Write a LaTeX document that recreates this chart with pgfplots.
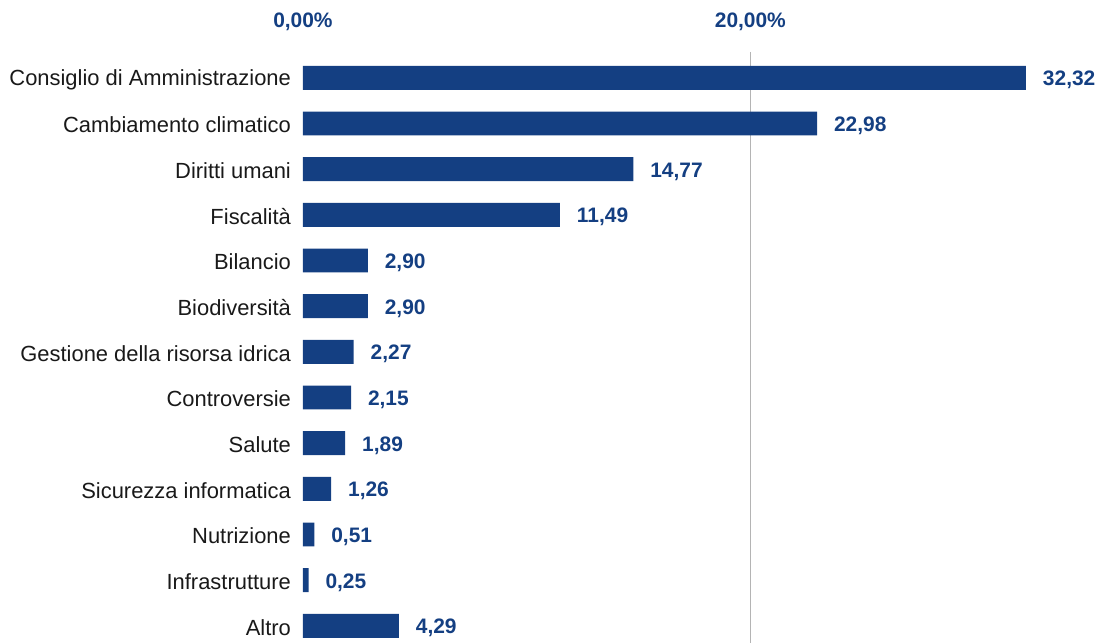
\documentclass[border=0pt]{standalone}
\usepackage{pgfplots}
\pgfplotsset{compat=1.18}
\usepackage{fontspec}
\setmainfont{Liberation Sans}
\definecolor{barblue}{HTML}{143F82}
\definecolor{gridgray}{HTML}{B4B4B4}
\begin{document}
\begin{tikzpicture}
\begin{axis}[
  scale only axis,
  width=392.9pt, height=296.5pt,
  xmin=0, xmax=35,
  ymin=-0.57, ymax=12.37,
  y dir=reverse,
  axis line style={draw=none},
  xbar, bar width=12pt,
  /pgf/number format/assume math mode=true,
  xtick={0,20},
  xticklabels={0{,}00\%,20{,}00\%},
  xticklabel pos=upper,
  xticklabel style={font=\fontsize{10.5pt}{12pt}\selectfont\bfseries, text=barblue, yshift=7pt},
  extra x ticks={20},
  extra x tick labels={},
  extra x tick style={grid=major, major grid style={gridgray, line width=0.6pt}},
  major tick length=0pt,
  ytick={0,...,12},
  yticklabels={Consiglio di Amministrazione,Cambiamento climatico,Diritti umani,Fiscalità,Bilancio,Biodiversità,Gestione della risorsa idrica,Controversie,Salute,Sicurezza informatica,Nutrizione,Infrastrutture,Altro},
  yticklabel style={font=\fontsize{11pt}{13pt}\selectfont, text=black!90, xshift=-2.5pt, yshift=-0.8pt},
  clip=false,
  nodes near coords={\pgfmathprintnumber[fixed,fixed zerofill,precision=2,use comma,assume math mode=true]{\pgfplotspointmeta}},
  point meta=explicit,
  every node near coord/.append style={font=\fontsize{10.5pt}{12pt}\selectfont\bfseries, text=barblue, anchor=west, xshift=5pt, yshift=-1.2pt},
]
\addplot[fill=barblue, draw=none] coordinates {
(32.32,0) [32.32]
(22.98,1) [22.98]
(14.77,2) [14.77]
(11.49,3) [11.49]
(2.90,4) [2.90]
(2.90,5) [2.90]
(2.27,6) [2.27]
(2.15,7) [2.15]
(1.89,8) [1.89]
(1.26,9) [1.26]
(0.51,10) [0.51]
(0.25,11) [0.25]
(4.29,12) [4.29]
};
\end{axis}
\useasboundingbox ([xshift=-152pt]current axis.south west) rectangle ([xshift=6.1pt,yshift=26pt]current axis.north east);
\end{tikzpicture}
\end{document}
